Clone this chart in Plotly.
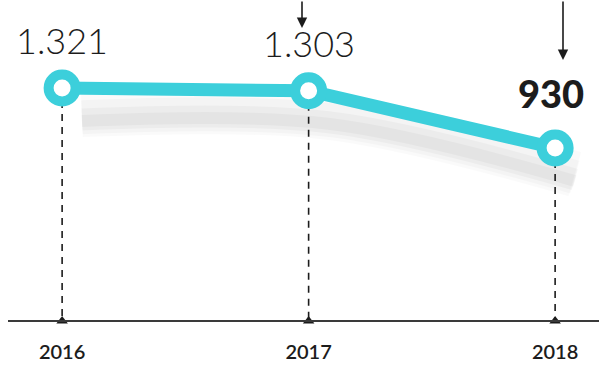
import plotly.graph_objects as go

years = [2016, 2017, 2018]
values = [1321, 1303, 930]
value_labels = ["1.321", "1.303", "930"]
year_labels = ["2016", "2017", "2018"]

TEAL = "#3ccfdb"
INK = "#1c1c1c"

fig = go.Figure()

# soft shadow under the line
for off, w, a in [(170, 46, 0.018), (190, 34, 0.025), (205, 22, 0.03), (215, 12, 0.03)]:
    fig.add_trace(go.Scatter(
        x=[y + 0.08 for y in years], y=[v - off for v in values], mode="lines",
        line=dict(color=f"rgba(0,0,0,{a})", width=w, shape="spline"),
        hoverinfo="skip", showlegend=False))

ymin = -197.3
# dashed drop lines
for x, v in zip(years, values):
    fig.add_trace(go.Scatter(
        x=[x, x], y=[v, ymin], mode="lines",
        line=dict(color=INK, width=1.6, dash="7px,6px"), hoverinfo="skip", showlegend=False))

# main line
fig.add_trace(go.Scatter(
    x=years, y=values, mode="lines+markers",
    line=dict(color=TEAL, width=13),
    marker=dict(size=27, color="white", line=dict(color=TEAL, width=10)),
    hoverinfo="skip", showlegend=False))

# tick triangles on axis
fig.add_trace(go.Scatter(
    x=years, y=[ymin] * 3, mode="markers",
    marker=dict(symbol="triangle-up", size=10, color=INK),
    cliponaxis=False, hoverinfo="skip", showlegend=False))

# value labels
for i, (x, v, t) in enumerate(zip(years, values, value_labels)):
    bold = i == 2
    fig.add_annotation(
        x=x, y=v, text=t, showarrow=False, yanchor="bottom",
        yshift=24 if not bold else 30, xshift=-4 if bold else 0,
        font=dict(family="Lato", size=36 if not bold else 38,
                  weight=900 if bold else 300, color=INK))

# decorative arrows at top
fig.add_annotation(x=302 / 599, y=1 - 28 / 321, xref="paper", yref="paper",
                   ax=0, ay=-40, showarrow=True, arrowhead=2, arrowsize=1.3,
                   arrowwidth=1.6, arrowcolor=INK, text="")
fig.add_annotation(x=563 / 599, y=1 - 60 / 321, xref="paper", yref="paper",
                   ax=0, ay=-70, showarrow=True, arrowhead=2, arrowsize=1.3,
                   arrowwidth=1.6, arrowcolor=INK, text="")

# baseline
fig.add_shape(type="line", xref="paper", yref="paper", x0=8 / 599, x1=1, y0=0, y1=0,
              line=dict(color="#3a3a3a", width=2))

fig.update_layout(
    width=599, height=366,
    margin=dict(l=0, r=0, t=0, b=45),
    paper_bgcolor="white", plot_bgcolor="white",
    xaxis=dict(range=[2015.748, 2018.178], showgrid=False, zeroline=False,
               showline=False, tickvals=years, ticktext=year_labels,
               ticks="", ticklabelstandoff=17,
               tickfont=dict(family="Lato", size=20, weight=600, color=INK)),
    yaxis=dict(range=[ymin, 1894.5], visible=False),
)

fig.write_html("out.html", config={"displayModeBar": False},
               post_script="document.body.style.margin='0';document.body.style.overflow='hidden';")
